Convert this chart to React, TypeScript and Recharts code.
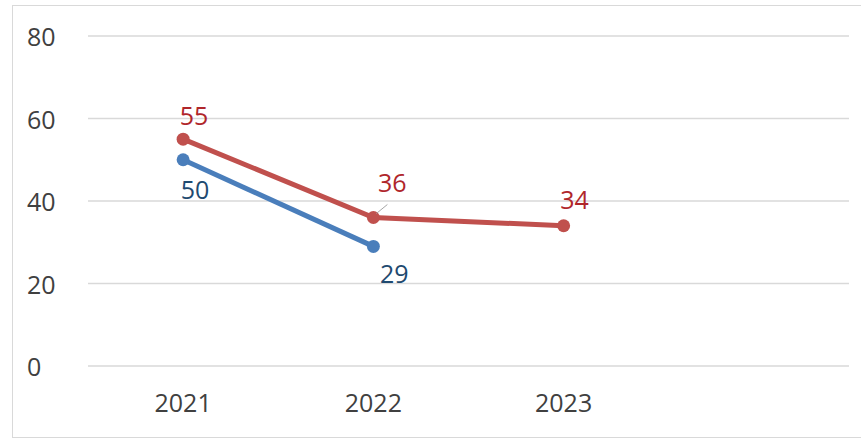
import React from 'react';
import { LineChart, Line, XAxis, YAxis, CartesianGrid, LabelList } from 'recharts';

const years = ['2021', '2022', '2023', ''];
const redValues: (number | null)[] = [55, 36, 34, null];
const blueValues: (number | null)[] = [50, 29, null, null];
const yTicks = [0, 20, 40, 60, 80];

const RED = '#C0504D';
const RED_TEXT = '#B0262B';
const BLUE = '#4A7EBB';
const BLUE_TEXT = '#1F4A70';
const FONT = '"Open Sans", "Liberation Sans", sans-serif';
const FS = 25;

// label placement relative to each point (dx, dy)
const redLabelShift = [
  { dx: 11, dy: -24 },
  { dx: 19, dy: -36 },
  { dx: 11, dy: -27 },
];
const blueLabelShift = [
  { dx: 12, dy: 29 },
  { dx: 21, dy: 27 },
];

const makeLabel = (shift: { dx: number; dy: number }[], color: string, leader?: number) => (props: any) => {
  const { x, y, value, index } = props;
  if (value == null) return null;
  const s = shift[index] || { dx: 0, dy: -20 };
  return (
    <g>
      {leader === index && (
        <line x1={x + 3} y1={y - 4} x2={x + 14} y2={y - 13} stroke="#a6a6a6" strokeWidth={1} />
      )}
      <text
        x={x + s.dx}
        y={y + s.dy}
        fill={color}
        fontSize={FS}
        fontFamily={FONT}
        textAnchor="middle"
        dominantBaseline="central"
      >
        {value}
      </text>
    </g>
  );
};

const YTick = (props: any) => {
  const { y, payload } = props;
  return (
    <text x={27} y={y} fill="#404040" fontSize={FS} fontFamily={FONT} dominantBaseline="central">
      {payload.value}
    </text>
  );
};

export default function App() {
  const data = years.map((year, i) => ({ year, red: redValues[i], blue: blueValues[i] }));

  return (
    <div style={{ position: 'absolute', left: 0, top: 0, width: 861, height: 441, background: '#fff' }}>
      <div
        style={{
          position: 'absolute',
          left: 12,
          top: 5,
          width: 860,
          height: 431,
          border: '1px solid #d9d9d9',
        }}
      />
      <div style={{ position: 'absolute', left: 0, top: 0 }}>
        <LineChart width={861} height={441} data={data} margin={{ top: 36, right: 12, bottom: 45, left: 0 }}>
          <CartesianGrid vertical={false} stroke="#d9d9d9" strokeWidth={1.5} />
          <XAxis
            dataKey="year"
            scale="band"
            axisLine={false}
            tickLine={false}
            tickMargin={22}
            height={30}
            tick={{ fill: '#404040', fontSize: FS, fontFamily: FONT }}
          />
          <YAxis
            width={88}
            domain={[0, 80]}
            ticks={yTicks}
            axisLine={false}
            tickLine={false}
            tick={<YTick />}
          />
          <Line
            dataKey="blue"
            stroke={BLUE}
            strokeWidth={5}
            dot={{ r: 6.5, fill: BLUE, stroke: BLUE, strokeWidth: 0 }}
            isAnimationActive={false}
          >
            <LabelList dataKey="blue" content={makeLabel(blueLabelShift, BLUE_TEXT)} />
          </Line>
          <Line
            dataKey="red"
            stroke={RED}
            strokeWidth={5}
            dot={{ r: 6.5, fill: RED, stroke: RED, strokeWidth: 0 }}
            isAnimationActive={false}
          >
            <LabelList dataKey="red" content={makeLabel(redLabelShift, RED_TEXT, 1)} />
          </Line>
        </LineChart>
      </div>
    </div>
  );
}
